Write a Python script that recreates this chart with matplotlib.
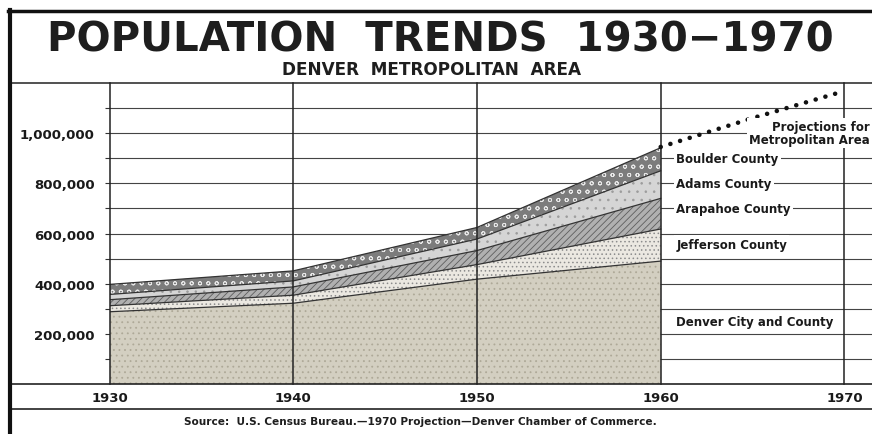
import numpy as np
import matplotlib.pyplot as plt
from matplotlib.lines import Line2D
from matplotlib.ticker import FuncFormatter

plt.rcParams['font.family'] = ['DejaVu Sans']
plt.rcParams['hatch.linewidth'] = 0.6

# census years and population by area (people)
years = [1930, 1940, 1950, 1960]
denver = [288000, 322000, 418000, 490000]
jefferson = [24000, 32000, 58000, 128000]
arapahoe = [24000, 33000, 56000, 122000]
adams = [21000, 24000, 46000, 110000]
boulder = [40000, 40000, 46000, 92000]

# dotted projection for the metro area
proj_years = [1960, 1965, 1970]
proj_values = [945000, 1060000, 1168000]

decades = [1930, 1940, 1950, 1960, 1970]
label_years = ['1930', '1940', '1950', '1960', '1970']

layers = [
    ('Denver City and County', denver, '#d3cfc1', '...', '#aea998', 251000),
    ('Jefferson County', jefferson, '#ebe8e1', '....', '#8c8c8c', 558000),
    ('Arapahoe County', arapahoe, '#b0b0b0', '/////', '#5e5e5e', 700000),
    ('Adams County', adams, '#d5d5d5', '..', '#9c9c9c', 800000),
    ('Boulder County', boulder, '#7c7c7c', 'oo', '#e8e8e8', 900000),
]

W, H = 872, 435
fig = plt.figure(figsize=(W / 100, H / 100), dpi=100)


def fx(px):
    return px / W


def fy(py):
    return 1 - py / H


ax = fig.add_axes([fx(109.5), fy(385), fx(W - 109.5), (385 - 84) / H])
ax.set_xlim(1930, 1971.5)
ax.set_ylim(0, 1200000)

# stacked areas
bottom = np.zeros(len(years))
for name, vals, face, hatch, hcol, ly in layers:
    top = bottom + np.array(vals)
    ax.fill_between(years, bottom, top, facecolor=face, hatch=hatch,
                    edgecolor=hcol, linewidth=0, zorder=2)
    ax.plot(years, top, color='#333333', lw=0.9, zorder=2.5)
    ax.text(1960.85, ly, name, ha='left', va='center', fontsize=8.5,
            fontweight='bold', color='#1a1a1a', zorder=6,
            bbox=dict(facecolor='white', edgecolor='none', pad=1.5))
    bottom = top

ax.plot(proj_years, proj_values, color='#111111', lw=3.3,
        linestyle=(0, (0.01, 2.2)), dash_capstyle='round', zorder=4,
        clip_on=False)
ax.text(1971.4, 1000000, 'Projections for\nMetropolitan Area', ha='right',
        va='center', fontsize=8.5, fontweight='bold', color='#1a1a1a',
        linespacing=0.95, zorder=6,
        bbox=dict(facecolor='white', edgecolor='none', pad=1.5))

# grid: horizontal lines under the areas, decade lines over them
ax.set_yticks(np.arange(100000, 1200000, 100000))
ax.yaxis.set_major_formatter(FuncFormatter(
    lambda v, p: f'{int(v):,}' if 200000 <= v <= 1000000 and v % 200000 == 0 else ''))
ax.grid(axis='y', color='#444444', lw=0.8, zorder=1)
ax.set_axisbelow(True)
for d in decades:
    ax.axvline(d, color='#222222', lw=1.1, zorder=3, clip_on=False)

ax.set_xticks(decades)
ax.set_xticklabels(label_years)
ax.tick_params(axis='x', length=0, pad=5, labelsize=9.5)
ax.tick_params(axis='y', length=3.6, width=0.8, color='#333333', pad=7,
               labelsize=9.5)
for lab in ax.get_xticklabels() + ax.get_yticklabels():
    lab.set_fontweight('bold')
    lab.set_color('#1a1a1a')
for s in ax.spines.values():
    s.set_visible(False)

# frame and rules across the page
for py, lw in [(84, 1.1), (385, 1.2), (410, 1.2)]:
    fig.add_artist(Line2D([fx(9), 1], [fy(py), fy(py)], color='#222222', lw=lw))
fig.add_artist(Line2D([fx(9.5), fx(9.5)], [0, fy(11)], color='#111111', lw=3))
fig.add_artist(Line2D([fx(8), 1], [fy(11.5), fy(11.5)], color='#111111', lw=2.5))

fig.text(fx(440), fy(41), 'POPULATION  TRENDS  1930\u22121970', ha='center',
         va='center', fontsize=29, fontweight='bold', color='#1e1e1e')
fig.text(fx(431), fy(70), 'DENVER  METROPOLITAN  AREA', ha='center',
         va='center', fontsize=12.2, fontweight='bold', color='#1e1e1e')
fig.text(fx(420), fy(422), 'Source:  U.S. Census Bureau.\u20141970 Projection\u2014Denver Chamber of Commerce.',
         ha='center', va='center', fontsize=7.6, fontweight='bold', color='#1e1e1e')

fig.savefig('out.png', dpi=100)
plt.close(fig)
